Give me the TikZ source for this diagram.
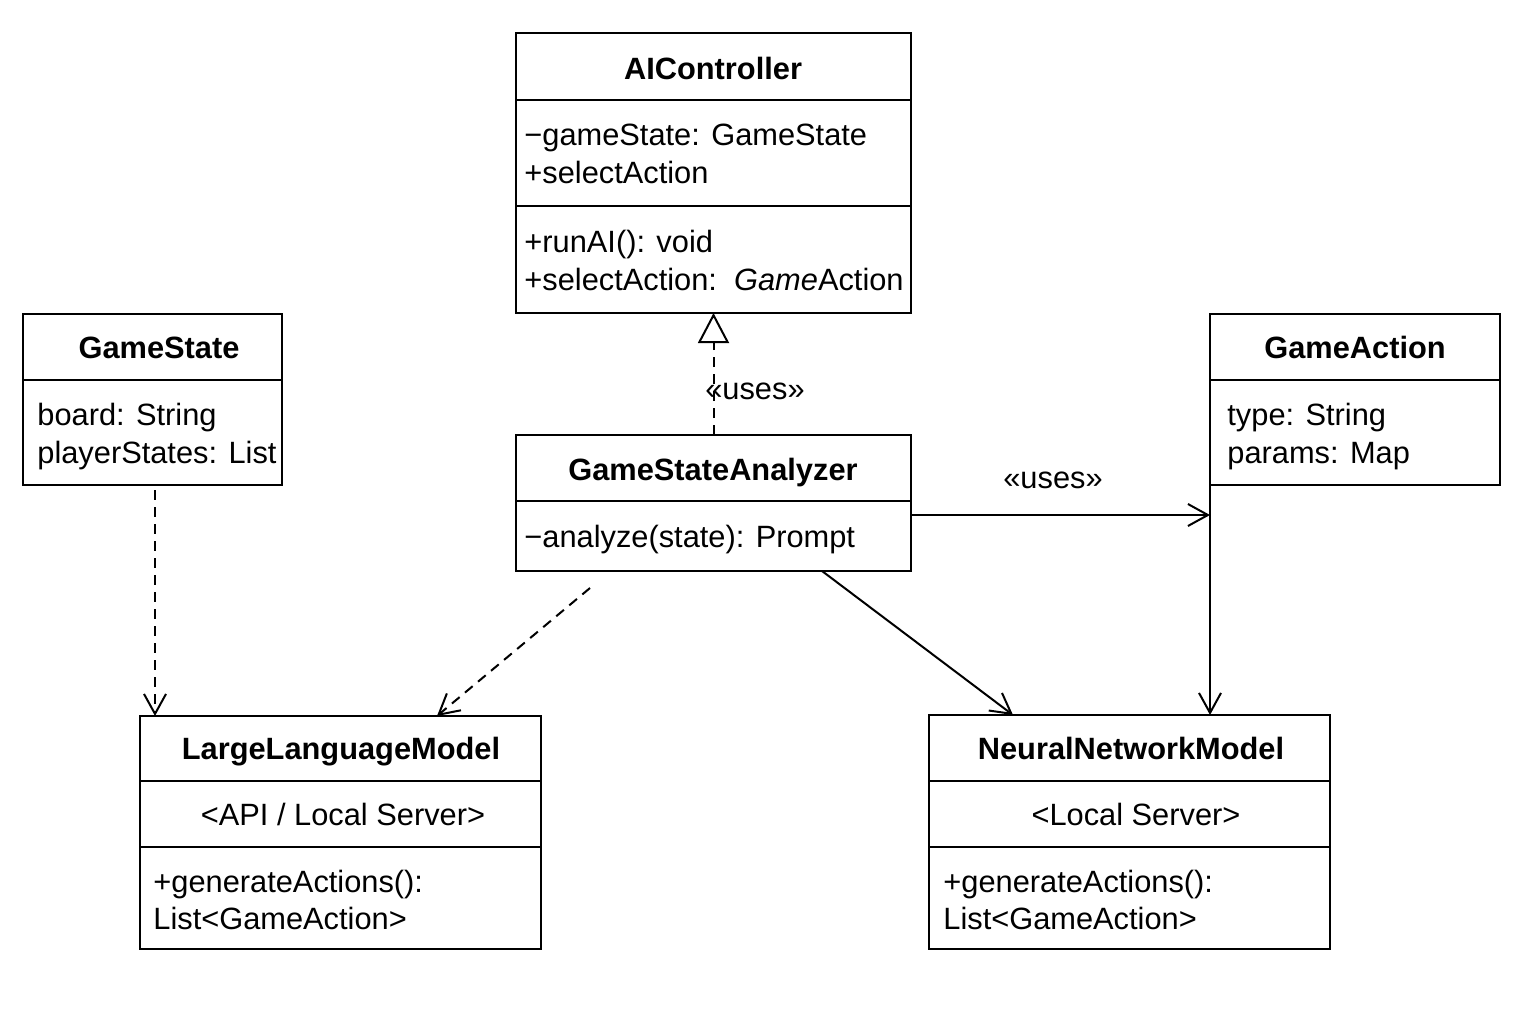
\documentclass[tikz,border=0pt]{standalone}
\usepackage{fontspec}
\setmainfont{Liberation Sans}
\usetikzlibrary{arrows.meta}
\begin{document}
\begin{tikzpicture}[x=0.5pt,y=-0.5pt,
  frame/.style={draw, line width=1pt, inner sep=0pt, outer sep=0pt, anchor=north west},
  title/.style={font=\fontsize{15.4}{19}\selectfont\bfseries, anchor=base, inner sep=0pt},
  txt/.style={font=\fontsize{15.4}{19}\selectfont, anchor=base west, inner sep=0pt},
  ctxt/.style={font=\fontsize{15.4}{19}\selectfont, anchor=base, inner sep=0pt},
  rule/.style={line width=1pt},
  link/.style={line width=1pt},
  dep/.style={line width=1pt, dash pattern=on 5pt off 3.5pt},
  barb/.style={-{Straight Barb[length=10pt,width=11pt,line width=1pt]}},
  realize/.style={-{Triangle[open,length=15pt,width=15.5pt,line width=1pt]}}]
\useasboundingbox[fill=white] (0,0) rectangle (1536,1024);

% class boxes
\node[frame, minimum width=197.5pt, minimum height=140pt] (ai) at (516,33) {};
\node[frame, minimum width=129.5pt, minimum height=85.5pt] (gs) at (23,314) {};
\node[frame, minimum width=145pt, minimum height=85.5pt] (ga) at (1210,314) {};
\node[frame, minimum width=197.5pt, minimum height=68pt] (gsa) at (516,435) {};
\node[frame, minimum width=200.5pt, minimum height=116.5pt] (llm) at (140,716) {};
\node[frame, minimum width=200.5pt, minimum height=117pt] (nn) at (929,715) {};

% compartment dividers
\draw[rule] (ai.west |- 0,100) -- (ai.east |- 0,100);
\draw[rule] (ai.west |- 0,206) -- (ai.east |- 0,206);
\draw[rule] (gs.west |- 0,380) -- (gs.east |- 0,380);
\draw[rule] (ga.west |- 0,380) -- (ga.east |- 0,380);
\draw[rule] (gsa.west |- 0,501) -- (gsa.east |- 0,501);
\draw[rule] (llm.west |- 0,781) -- (llm.east |- 0,781);
\draw[rule] (llm.west |- 0,847) -- (llm.east |- 0,847);
\draw[rule] (nn.west |- 0,781) -- (nn.east |- 0,781);
\draw[rule] (nn.west |- 0,847) -- (nn.east |- 0,847);

% AIController
\node[title] (aiT) at (713,79) {AIController};
\node[txt] (aiA1) at (524,145) {−gameState: GameState};
\node[txt] (aiA2) at (524,183) {+selectAction};
\node[txt] (aiM1) at (524,252) {+runAI(): void};
\node[txt] (aiM2) at (524,290) {+selectAction:\ \ \textit{Game}Action};

% GameState
\node[title] (gsT) at (159,358) {GameState};
\node[txt] (gsA1) at (37,425) {board: String};
\node[txt] (gsA2) at (37,463) {playerStates: List};

% GameAction
\node[title] (gaT) at (1355,358) {GameAction};
\node[txt] (gaA1) at (1227,425) {type: String};
\node[txt] (gaA2) at (1227,463) {params: Map};

% GameStateAnalyzer
\node[title] (gsaT) at (713,480) {GameStateAnalyzer};
\node[txt] (gsaM) at (524,547) {−analyze(state): Prompt};

% LargeLanguageModel
\node[title] (llmT) at (341,759) {LargeLanguageModel};
\node[ctxt] (llmS) at (343,825) {<API / Local Server>};
\node[txt] (llmM1) at (153,892) {+generateActions():};
\node[txt] (llmM2) at (153,929) {List<GameAction>};

% NeuralNetworkModel
\node[title] (nnT) at (1131,759) {NeuralNetworkModel};
\node[ctxt] (nnS) at (1136,825) {<Local Server>};
\node[txt] (nnM1) at (943,892) {+generateActions():};
\node[txt] (nnM2) at (943,929) {List<GameAction>};

% relationships
\draw[dep, realize] (gsa.north) -- (ai.south);
\node[ctxt] (lblA) at (755,399) {«uses»};

\draw[link, barb] ([yshift=-6pt]gsa.east) -- ([yshift=-6pt]gsa.east -| ga.west);
\node[ctxt] (lblB) at (1053,488) {«uses»};

\draw[dep, barb] ([xshift=1.25pt,yshift=-2.5pt]gs.south) -- ([xshift=1.25pt]gs.south |- llm.north);
\draw[dep, barb] ([xshift=37pt,yshift=-8.5pt]gsa.south west) -- ([xshift=148.5pt]llm.north west);
\draw[link, barb] ([xshift=153pt]gsa.south west) -- ([xshift=42pt]nn.north west);
\draw[link, barb] (ga.south west) -- (ga.south west |- nn.north);
\end{tikzpicture}
\end{document}
